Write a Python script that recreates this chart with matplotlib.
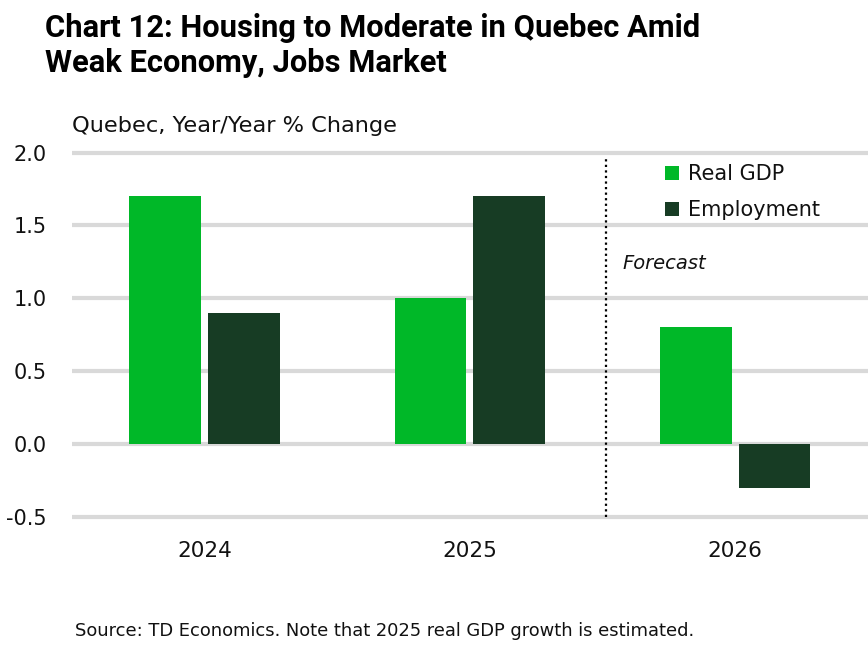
import matplotlib
matplotlib.use("Agg")
import matplotlib.pyplot as plt
import numpy as np

categories = ["2024", "2025", "2026"]
real_gdp = [1.7, 1.0, 0.8]
employment = [0.9, 1.7, -0.3]
yticks = [-0.5, 0.0, 0.5, 1.0, 1.5, 2.0]
ytick_labels = ["-0.5", "0.0", "0.5", "1.0", "1.5", "2.0"]
series_names = ["Real GDP", "Employment"]

GREEN = "#00B828"
DARK = "#173C24"
GRID = "#D9D9D9"
TXT = "#111111"

plt.rcParams['font.family'] = ['DejaVu Sans']

fig = plt.figure(figsize=(8.68, 6.48), dpi=100)
ax = fig.add_axes([71.75 / 868, 0.1914, 1 - 71.75 / 868, 0.5842])

x = np.arange(len(categories))
w = 0.27
off = 0.148
ax.bar(x - off, real_gdp, width=w, color=GREEN, label=series_names[0], zorder=3)
ax.bar(x + off, employment, width=w, color=DARK, label=series_names[1], zorder=3)

ax.set_xlim(-0.5, 2.5)
ax.set_ylim(-0.55, 2.05)
ax.set_yticks(yticks)
ax.set_yticklabels(ytick_labels)
ax.set_xticks(x)
ax.set_xticklabels(categories)
ax.yaxis.grid(True, color=GRID, linewidth=3, zorder=0)
ax.set_axisbelow(True)
for s in ax.spines.values():
    s.set_visible(False)
ax.tick_params(axis='both', length=0, labelsize=15, colors=TXT)
ax.tick_params(axis='x', labelsize=15.5)
ax.tick_params(axis='y', pad=18)
ax.tick_params(axis='x', pad=12)

ax.plot([1.512, 1.512], [-0.5, 1.98], linestyle=(0, (1, 1.5)), color="black", linewidth=1.6, zorder=4)
ax.text(1.575, 1.24, "Forecast", style='italic', fontsize=14, color=TXT, va='center', ha='left')

leg = ax.legend(loc='upper left', bbox_to_anchor=(0.735, 0.972), frameon=False, fontsize=15,
                handlelength=0.65, handleheight=0.65, handletextpad=0.45, labelspacing=0.75,
                borderaxespad=0)
for t in leg.get_texts():
    t.set_color(TXT)

title_font = ['Roboto', 'DejaVu Sans']
fig.text(45 / 868, 1 - 37 / 648, "Chart 12: Housing to Moderate in Quebec Amid",
         fontsize=22.2, fontweight='bold', va='baseline', ha='left', color="black", family=title_font)
fig.text(45 / 868, 1 - 72 / 648, "Weak Economy, Jobs Market",
         fontsize=22.2, fontweight='bold', va='baseline', ha='left', color="black", family=title_font)
fig.text(72 / 868, 1 - 132 / 648, "Quebec, Year/Year % Change", fontsize=16.2, va='baseline', ha='left', color=TXT)
fig.text(75 / 868, 1 - 636 / 648, "Source: TD Economics. Note that 2025 real GDP growth is estimated.",
         fontsize=12.9, va='baseline', ha='left', color=TXT)

fig.savefig("out.png", dpi=100)
